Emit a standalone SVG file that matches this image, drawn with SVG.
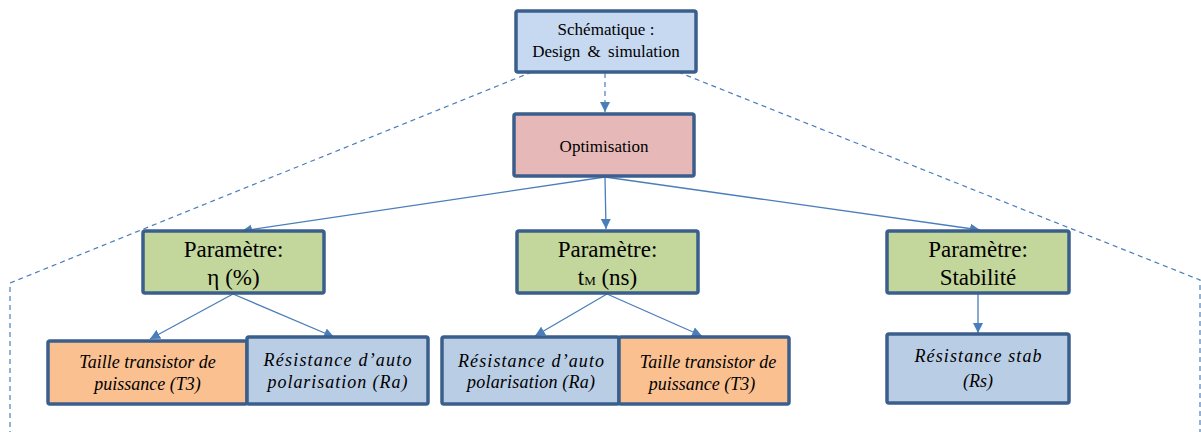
<svg xmlns="http://www.w3.org/2000/svg" width="1201" height="432" viewBox="0 0 1201 432">
<defs>
<marker id="ah" viewBox="0 0 10 10" refX="10" refY="5" markerWidth="10" markerHeight="10" markerUnits="userSpaceOnUse" orient="auto">
<path d="M0,0 L10,5 L0,10 Z" fill="#4a7ebb"/>
</marker>
<style>
.box{stroke:#3b5f8c;stroke-width:3.5}
.blue{fill:#c6d9f1}
.pink{fill:#e6b9b8}
.green{fill:#c3d69b}
.orange{fill:#fac090}
.lblue{fill:#b9cde5}
.c{stroke:#4a7ebb;stroke-width:1.3;fill:none}
.d{stroke:#4a7ebb;stroke-width:1.2;fill:none;stroke-dasharray:5 4}
text{fill:#000;text-anchor:middle}
.t17{font-size:17px}
.t23{font-size:23px}
.it{font-size:18px;font-style:italic}
</style>
</defs>
<g id="connectors">
<polyline class="d" points="532,72 10,283 10,432"/>
<polyline class="d" points="678,72 1200,280 1200,432"/>
<line class="d" x1="605" y1="73" x2="605" y2="112" marker-end="url(#ah)"/>
<line class="c" x1="605" y1="177" x2="242" y2="231" marker-end="url(#ah)"/>
<line class="c" x1="605" y1="177" x2="606" y2="229" marker-end="url(#ah)"/>
<line class="c" x1="605" y1="177" x2="980" y2="230" marker-end="url(#ah)"/>
<line class="c" x1="233" y1="294" x2="150" y2="339" marker-end="url(#ah)"/>
<line class="c" x1="233" y1="294" x2="334" y2="337" marker-end="url(#ah)"/>
<line class="c" x1="607" y1="294" x2="535" y2="336" marker-end="url(#ah)"/>
<line class="c" x1="607" y1="294" x2="702" y2="336" marker-end="url(#ah)"/>
<line class="c" x1="978" y1="294" x2="978" y2="333" marker-end="url(#ah)"/>
</g>
<g font-family="Liberation Serif, Times New Roman, serif">
<g id="schematique">
<rect class="box blue" x="516" y="11" width="180" height="61" rx="2"/>
<text class="t17" x="606" y="35">Schématique :</text>
<text class="t17" x="606" y="57" word-spacing="3">Design &amp; simulation</text>
</g>
<g id="optimisation">
<rect class="box pink" x="514" y="114" width="180" height="62" rx="2"/>
<text class="t17" x="604" y="152">Optimisation</text>
</g>
<g id="param-eta">
<rect class="box green" x="143" y="231" width="181" height="62" rx="2"/>
<text class="t23" x="233.5" y="257">Paramètre:</text>
<text class="t23" x="233.5" y="285">η (%)</text>
</g>
<g id="param-tm">
<rect class="box green" x="517" y="231" width="181" height="62" rx="2"/>
<text class="t23" x="607.5" y="257">Paramètre:</text>
<text class="t23" x="607.5" y="285">t<tspan font-size="13">M</tspan> (ns)</text>
</g>
<g id="param-stab">
<rect class="box green" x="887" y="231" width="182" height="62" rx="2"/>
<text class="t23" x="978" y="257">Paramètre:</text>
<text class="t23" x="978" y="285">Stabilité</text>
</g>
<g id="t3-left">
<rect class="box orange" x="48" y="341" width="199" height="63" rx="2"/>
<text class="it" x="147.5" y="368">Taille transistor de</text>
<text class="it" x="147.5" y="390">puissance (T3)</text>
</g>
<g id="ra-left">
<rect class="box lblue" x="247" y="337" width="181" height="67" rx="2"/>
<text class="it" x="337.5" y="366" textLength="148" lengthAdjust="spacing">Résistance d’auto</text>
<text class="it" x="337.5" y="388" textLength="140" lengthAdjust="spacing">polarisation (Ra)</text>
</g>
<g id="ra-mid">
<rect class="box lblue" x="442" y="337" width="177" height="67" rx="2"/>
<text class="it" x="531" y="367" textLength="146" lengthAdjust="spacing">Résistance d’auto</text>
<text class="it" x="531" y="388" textLength="128" lengthAdjust="spacing">polarisation (Ra)</text>
</g>
<g id="t3-mid">
<rect class="box orange" x="619" y="337" width="170" height="67" rx="2"/>
<text class="it" x="708" y="368">Taille transistor de</text>
<text class="it" x="702" y="390">puissance (T3)</text>
</g>
<g id="rs">
<rect class="box lblue" x="887" y="334" width="182" height="69" rx="2"/>
<text class="it" x="978" y="362" textLength="127" lengthAdjust="spacing">Résistance stab</text>
<text class="it" x="978" y="387">(Rs)</text>
</g>
</g>
</svg>
